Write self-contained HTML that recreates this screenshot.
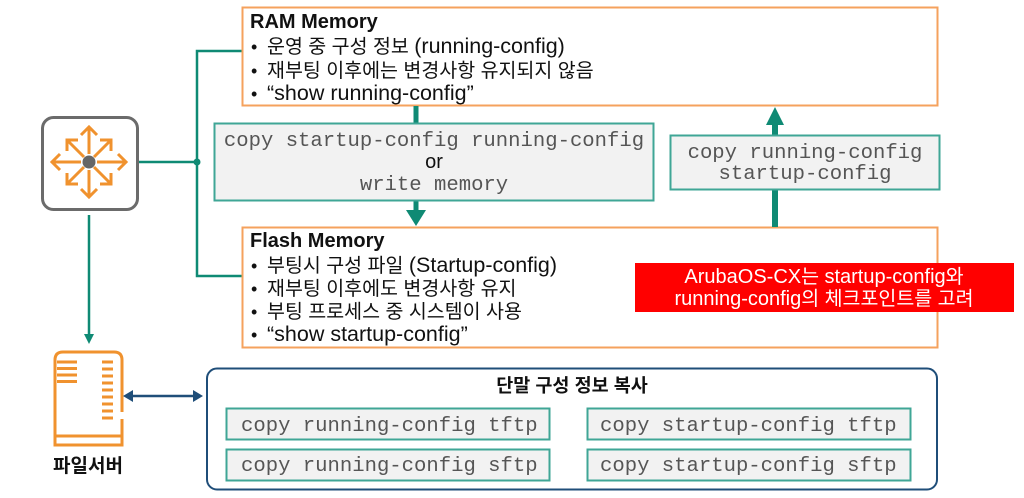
<!DOCTYPE html>
<html>
<head>
<meta charset="utf-8">
<style>
  html,body{margin:0;padding:0;background:#fff;}
  svg{display:block;}
  .sans{font-family:"Liberation Sans","Noto Sans CJK KR",sans-serif;}
  .mono{font-family:"Liberation Mono","Courier New",monospace;font-size:20.6px;fill:#555;}
</style>
</head>
<body>
<svg width="1024" height="498" viewBox="0 0 1024 498" xmlns="http://www.w3.org/2000/svg">
  <rect x="0" y="0" width="1024" height="498" fill="#fff"/>

  <!-- teal connector lines from switch -->
  <g stroke="#0f8a74" stroke-width="2.5" fill="none">
    <polyline points="242,51 197,51 197,276 242,276"/>
    <line x1="138" y1="162" x2="197" y2="162"/>
    <line x1="89" y1="215" x2="89" y2="336"/>
  </g>
  <circle cx="197" cy="162" r="3.5" fill="#0f8a74"/>
  <polygon points="84,334 94,334 89,344" fill="#0f8a74"/>

  <!-- RAM box -->
  <rect x="242.5" y="7.5" width="695" height="98" fill="#fff" stroke="#f5a25d" stroke-width="2"/>
  <!-- Flash box -->
  <rect x="242.5" y="227.5" width="695" height="120" fill="#fff" stroke="#f5a25d" stroke-width="2"/>

  <!-- arrow down RAM -> Flash -->
  <rect x="413.5" y="106" width="5" height="18" fill="#0f8a74"/>
  <rect x="413.5" y="200" width="5" height="11" fill="#0f8a74"/>
  <polygon points="406,210 426,210 416,226" fill="#0f8a74"/>

  <!-- arrow up Flash -> RAM -->
  <rect x="772" y="123" width="6" height="104" fill="#0f8a74"/>
  <polygon points="766,125 784,125 775,107" fill="#0f8a74"/>

  <!-- copy box 1 -->
  <rect x="214.5" y="123.5" width="439" height="77" fill="#f2f2f2" stroke="#3fa696" stroke-width="2"/>
  <text class="mono" x="434" y="146" text-anchor="middle">copy startup-config running-config</text>
  <text class="sans" x="434" y="168" text-anchor="middle" font-size="20" fill="#111">or</text>
  <text class="mono" x="434" y="190" text-anchor="middle">write memory</text>

  <!-- copy box 2 -->
  <rect x="670.5" y="135.5" width="269" height="54" fill="#f2f2f2" stroke="#3fa696" stroke-width="2"/>
  <text class="mono" x="805" y="158" text-anchor="middle">copy running-config</text>
  <text class="mono" x="805" y="179" text-anchor="middle">startup-config</text>

  <!-- RAM text -->
  <g class="sans" fill="#111">
    <text x="250" y="28" font-size="20" font-weight="bold">RAM Memory</text>
    <text x="251" y="53" font-size="18">•</text>
    <text x="267" y="53" font-size="19.5">운영 중 구성 정보 <tspan font-size="21.5">(running-config)</tspan></text>
    <text x="251" y="77" font-size="18">•</text>
    <text x="267" y="77" font-size="19.5">재부팅 이후에는 변경사항 유지되지 않음</text>
    <text x="251" y="100" font-size="18">•</text>
    <text x="267" y="100" font-size="21.5">“show running-config”</text>

    <text x="250" y="247" font-size="20" font-weight="bold">Flash Memory</text>
    <text x="251" y="272" font-size="18">•</text>
    <text x="267" y="272" font-size="19.5">부팅시 구성 파일 <tspan font-size="21.5">(Startup-config)</tspan></text>
    <text x="251" y="295" font-size="18">•</text>
    <text x="267" y="295" font-size="19.5">재부팅 이후에도 변경사항 유지</text>
    <text x="251" y="318" font-size="18">•</text>
    <text x="267" y="318" font-size="19.5">부팅 프로세스 중 시스템이 사용</text>
    <text x="251" y="341" font-size="18">•</text>
    <text x="267" y="341" font-size="21.5">“show startup-config”</text>
  </g>

  <!-- red note -->
  <rect x="635" y="263" width="379" height="49" fill="#ff0000"/>
  <text class="sans" x="824" y="283" text-anchor="middle" font-size="19.5" fill="#fff"><tspan font-size="20">ArubaOS-CX</tspan>는 <tspan font-size="20">startup-config</tspan>와</text>
  <text class="sans" x="824" y="305" text-anchor="middle" font-size="19.5" fill="#fff"><tspan font-size="20">running-config</tspan>의 체크포인트를 고려</text>

  <!-- switch icon -->
  <rect x="42.5" y="117.5" width="95" height="92" rx="11" ry="11" fill="#fff" stroke="#6b6b6b" stroke-width="3"/>
  <g stroke="#f0922e" stroke-width="3" fill="none" stroke-linecap="butt" stroke-linejoin="miter">
    <line x1="89" y1="154" x2="89" y2="127"/>
    <polyline points="81,135 89,127 97,135"/>
    <line x1="89" y1="170" x2="89" y2="197"/>
    <polyline points="81,189 89,197 97,189"/>
    <line x1="81" y1="162" x2="52" y2="162"/>
    <polyline points="60,154 52,162 60,170"/>
    <line x1="97" y1="162" x2="126" y2="162"/>
    <polyline points="118,154 126,162 118,170"/>
    <line x1="84" y1="157" x2="67" y2="140"/>
    <polyline points="67,151 67,140 78,140"/>
    <line x1="94" y1="157" x2="111" y2="140"/>
    <polyline points="100,140 111,140 111,151"/>
    <line x1="84" y1="167" x2="67" y2="184"/>
    <polyline points="67,173 67,184 78,184"/>
    <line x1="94" y1="167" x2="111" y2="184"/>
    <polyline points="100,184 111,184 111,173"/>
  </g>
  <circle cx="89" cy="162" r="6.5" fill="#666"/>

  <!-- file server icon -->
  <g stroke="#f0922e" stroke-width="3" fill="none">
    <path d="M55,445 L55,360 Q55,352 63,352 L114,352 Q122,352 122,360 L122,445 Z"/>
    <line x1="55" y1="436" x2="122" y2="436"/>
    <line x1="57" y1="362" x2="77" y2="362"/>
    <line x1="57" y1="368.5" x2="77" y2="368.5"/>
    <line x1="57" y1="375" x2="77" y2="375"/>
    <line x1="57" y1="381.5" x2="77" y2="381.5"/>
    <line x1="102" y1="362" x2="113" y2="362"/>
    <line x1="102" y1="369" x2="113" y2="369"/>
    <line x1="102" y1="376" x2="113" y2="376"/>
    <line x1="102" y1="383" x2="113" y2="383"/>
    <line x1="102" y1="390" x2="113" y2="390"/>
    <line x1="102" y1="397" x2="113" y2="397"/>
    <line x1="102" y1="404" x2="113" y2="404"/>
    <line x1="102" y1="411" x2="113" y2="411"/>
    <line x1="102" y1="418" x2="113" y2="418"/>
  </g>
  <rect x="119" y="412" width="6" height="7" fill="#fff"/>
  <text class="sans" x="88" y="472" text-anchor="middle" font-size="19" font-weight="bold" fill="#111">파일서버</text>

  <!-- double arrow -->
  <line x1="131" y1="396" x2="195" y2="396" stroke="#1f4e79" stroke-width="2.5"/>
  <polygon points="123,396 133,390 133,402" fill="#1f4e79"/>
  <polygon points="203,396 193,390 193,402" fill="#1f4e79"/>

  <!-- bottom box -->
  <rect x="207" y="368.5" width="730" height="121" rx="10" ry="10" fill="#fff" stroke="#1f4e79" stroke-width="2"/>
  <text class="sans" x="572" y="392" text-anchor="middle" font-size="18.5" font-weight="bold" fill="#111">단말 구성 정보 복사</text>

  <rect x="226.5" y="408.5" width="323" height="31" fill="#f2f2f2" stroke="#3fa696" stroke-width="2"/>
  <rect x="226.5" y="449.5" width="323" height="31" fill="#f2f2f2" stroke="#3fa696" stroke-width="2"/>
  <rect x="587.5" y="408.5" width="323" height="31" fill="#f2f2f2" stroke="#3fa696" stroke-width="2"/>
  <rect x="587.5" y="449.5" width="323" height="31" fill="#f2f2f2" stroke="#3fa696" stroke-width="2"/>
  <text class="mono" x="241" y="431">copy running-config tftp</text>
  <text class="mono" x="241" y="471">copy running-config sftp</text>
  <text class="mono" x="600" y="431">copy startup-config tftp</text>
  <text class="mono" x="600" y="471">copy startup-config sftp</text>
</svg>
</body>
</html>
